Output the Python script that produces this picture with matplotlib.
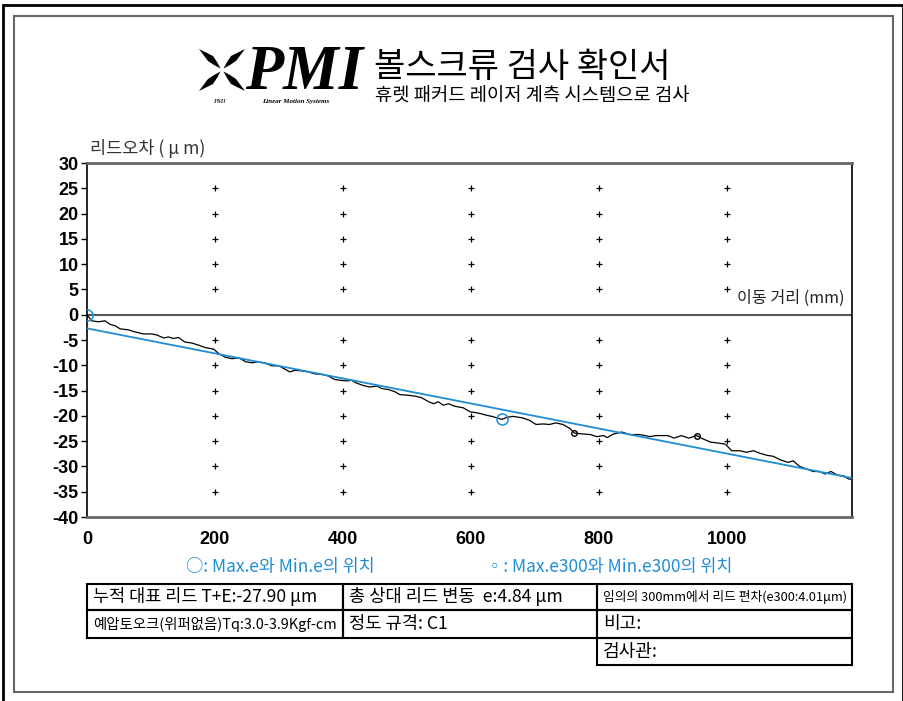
import numpy as np
import matplotlib
matplotlib.use("Agg")
import matplotlib.pyplot as plt
from matplotlib.patches import Rectangle, Polygon

plt.rcParams['font.family'] = ['Noto Sans CJK KR', 'DejaVu Sans']

# measured lead error along the travel (mm -> um)
pos_mm = [0, 7, 18, 28, 36, 44, 52, 65, 75, 88, 101, 109, 120, 127, 135, 143, 153, 164,
          174, 185, 198, 206, 216, 227, 237, 248, 258, 268, 279, 289, 300, 307, 317, 325,
          335, 346, 356, 367, 377, 387, 398, 408, 413, 421, 432, 442, 453, 461, 471, 481,
          489, 500, 513, 523, 534, 542, 549, 557, 565, 575, 588, 599, 609, 617, 625, 633,
          641, 649, 656, 666, 681, 692, 702, 713, 723, 733, 744, 755, 762, 777, 787, 797,
          808, 813, 823, 836, 849, 864, 880, 890, 908, 918, 929, 941, 953, 962, 975, 988,
          998, 1008, 1021, 1031, 1042, 1052, 1063, 1073, 1084, 1096, 1104, 1114, 1125,
          1135, 1145, 1154, 1163, 1173, 1183, 1191, 1196]
err_um = [0, -1.2, -1.4, -1.2, -1.9, -2.2, -2.8, -3.0, -3.4, -3.8, -3.8, -4.0, -4.6, -4.4,
          -4.7, -4.5, -5.4, -5.6, -6.0, -6.5, -6.8, -7.7, -8.4, -8.7, -8.5, -9.3, -9.5, -9.3,
          -9.6, -10.1, -10.1, -10.6, -11.3, -11.0, -11.1, -11.3, -11.7, -11.8, -12.1, -12.8,
          -13.0, -13.1, -12.9, -13.5, -14.0, -14.3, -14.1, -14.6, -14.8, -15.2, -15.8, -15.9,
          -16.1, -16.4, -17.2, -17.6, -17.2, -17.9, -17.6, -18.1, -18.4, -19.2, -19.4, -19.6,
          -19.9, -20.1, -20.4, -20.7, -20.3, -20.1, -20.4, -20.9, -21.7, -21.6, -21.7, -21.4,
          -21.7, -22.5, -23.4, -23.6, -23.7, -24.1, -23.9, -24.3, -23.6, -23.2, -23.7, -23.7,
          -24.1, -23.9, -23.9, -24.4, -23.9, -24.4, -23.9, -24.5, -25.2, -25.4, -25.6, -26.9,
          -26.9, -27.2, -26.9, -27.4, -27.8, -28.0, -28.7, -29.2, -28.9, -30.0, -30.5, -31.0,
          -31.0, -31.5, -31.0, -31.7, -31.9, -32.5, -32.5]

# representative travel line
fit_x = [0, 1196]
fit_y = [-2.7, -32.3]

# Max.e / Min.e and Max.e300 / Min.e300 positions
e_x, e_y = [0, 649], [0, -20.7]
e300_x, e300_y = [762, 953], [-23.4, -23.9]

grid_x = [200, 400, 600, 800, 1000]
grid_y = [25, 20, 15, 10, 5, -5, -10, -15, -20, -25, -30, -35]
yticks = list(range(-40, 31, 5))
xticks = [0, 200, 400, 600, 800, 1000]

BLUE = '#1f8dd6'
W, H = 904, 701


def fx(px):
    return px / W


def fy(py):
    return 1 - py / H


fig = plt.figure(figsize=(W / 100, H / 100), dpi=100)

# page frames
fig.add_artist(Rectangle((fx(3), fy(720)), fx(900), 715 / H, transform=fig.transFigure,
                         fill=False, ec='black', lw=2))
fig.add_artist(Rectangle((fx(14), fy(692)), fx(879), 676 / H, transform=fig.transFigure,
                         fill=False, ec='#666666', lw=1.5))

# logo mark: four blades pointing to the corners
cx, cy = 222, 70
blade = np.array([[23, 21], [9, 14], [5, 8], [1.5, 1.5], [8, 5], [14, 9]])
for sgx in (1, -1):
    for sgy in (1, -1):
        pts = [(fx(cx + sgx * bx), fy(cy - sgy * by)) for bx, by in blade]
        fig.add_artist(Polygon(pts, transform=fig.transFigure, fc='black', ec='none'))
fig.text(fx(245), fy(89), 'PMI', family='Liberation Serif', weight='bold', style='italic',
         fontsize=45, va='baseline', ha='left')
fig.text(fx(213), fy(103), 'PMI', family='Liberation Serif', style='italic', fontsize=5,
         va='baseline', ha='left')
fig.text(fx(262), fy(103), 'Linear Motion Systems', family='Liberation Serif', weight='bold',
         style='italic', fontsize=5, va='baseline', ha='left')

fig.text(fx(374), fy(67), '볼스크류 검사 확인서', fontsize=24.5, va='center', ha='left')
fig.text(fx(375), fy(96), '휴렛 패커드 레이저 계측 시스템으로 검사', fontsize=13.5,
         va='center', ha='left')

# chart
ax = fig.add_axes([fx(87), fy(517), (852 - 87) / W, (517 - 163) / H])
ax.plot(pos_mm, err_um, color='black', lw=0.9, zorder=3)
ax.plot(fit_x, fit_y, color=BLUE, lw=1.3, zorder=4)
ax.plot(e_x, e_y, ls='none', marker='o', ms=8, mfc='none', mec=BLUE, mew=1.1, zorder=5)
ax.plot(e300_x, e300_y, ls='none', marker='o', ms=4, mfc='none', mec='black', mew=1, zorder=5)
gx, gy = np.meshgrid(grid_x, grid_y)
ax.plot(gx.ravel(), gy.ravel(), ls='none', marker='+', ms=5, mew=0.9, color='black')
ax.axhline(0, color='#555555', lw=1.5, zorder=2)

ax.set_xlim(0, 1196)
ax.set_ylim(-40, 30)
ax.set_yticks(yticks)
ax.set_yticklabels([str(v) for v in yticks], family='Liberation Sans', weight='bold', fontsize=13)
ax.set_xticks(xticks)
ax.set_xticklabels([str(v) for v in xticks], family='Liberation Sans', weight='bold', fontsize=13)
ax.tick_params(axis='y', length=4, width=1, pad=2)
ax.tick_params(axis='x', length=0, pad=10)
for side in ('top', 'bottom'):
    ax.spines[side].set_color('#666666')
    ax.spines[side].set_linewidth(2)
for side in ('left', 'right'):
    ax.spines[side].set_color('black')
    ax.spines[side].set_linewidth(1.2)

fig.text(fx(90), fy(148), '리드오차 ( μ m)', fontsize=12.6, color='#333333', va='center', ha='left')
fig.text(fx(737), fy(298), '이동 거리 (mm)', fontsize=11.6, color='#222222', va='center', ha='left')

# legend line
fig.text(fx(186), fy(567), '○: Max.e와 Min.e의 위치', fontsize=12.5, color=BLUE,
         va='center', ha='left')
fig.text(fx(486), fy(567), '◦: Max.e300와 Min.e300의 위치', fontsize=12.5, color=BLUE,
         va='center', ha='left')

# info table
cells = [
    (87, 584, 343, 610, '누적 대표 리드 T+E:-27.90 μm', 12.6),
    (343, 584, 597, 610, '총 상대 리드 변동  e:4.84 μm', 12.7),
    (597, 584, 852, 610, '임의의 300mm에서 리드 편차(e300:4.01μm)', 9.2),
    (87, 610, 343, 638, '예압토오크(위퍼없음)Tq:3.0-3.9Kgf-cm', 10.4),
    (343, 610, 597, 638, '정도 규격: C1', 12.7),
    (597, 610, 852, 638, '비고:', 13),
    (597, 638, 852, 665, '검사관:', 13),
]
for x0, y0, x1, y1, label, size in cells:
    fig.add_artist(Rectangle((fx(x0), fy(y1)), (x1 - x0) / W, (y1 - y0) / H,
                             transform=fig.transFigure, fill=False, ec='black', lw=1.5))
    fig.text(fx(x0 + 6), fy((y0 + y1) / 2), label, fontsize=size, va='center', ha='left')

fig.savefig('out.png', dpi=100)
